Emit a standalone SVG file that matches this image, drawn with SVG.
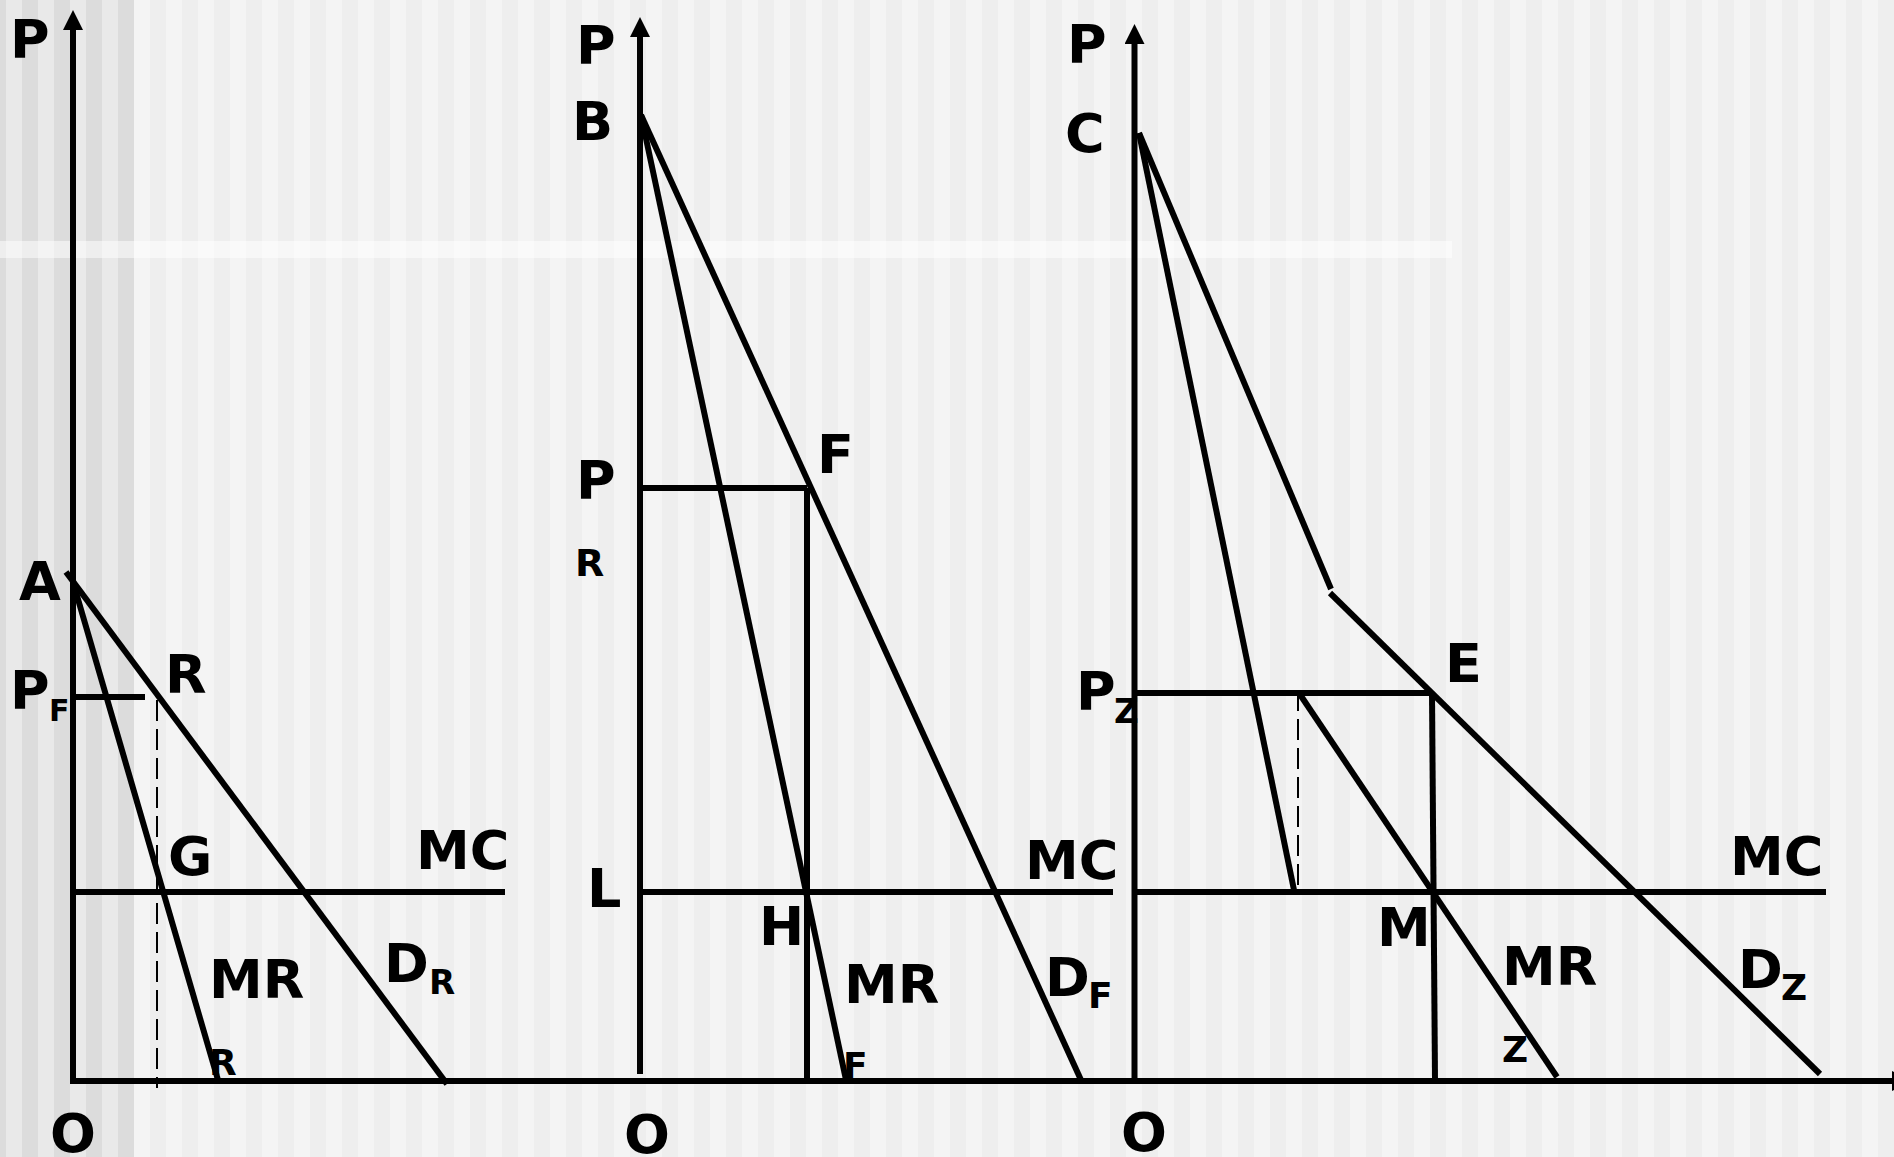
<svg xmlns="http://www.w3.org/2000/svg" width="1894" height="1157" viewBox="0 0 1894 1157">
<defs>
<pattern id="stripesL" x="6" y="0" width="32" height="1157" patternUnits="userSpaceOnUse">
<rect x="0" y="0" width="16" height="1157" fill="#e9e9e9"/>
<rect x="16" y="0" width="16" height="1157" fill="#dcdcdc"/>
</pattern>
<pattern id="stripesR" x="6" y="0" width="32" height="1157" patternUnits="userSpaceOnUse">
<rect x="0" y="0" width="16" height="1157" fill="#f4f4f4"/>
<rect x="16" y="0" width="16" height="1157" fill="#eeeeee"/>
</pattern>
<marker id="arrow" viewBox="0 0 20 20" refX="0" refY="10" markerWidth="20" markerHeight="20" markerUnits="userSpaceOnUse" orient="auto">
<path d="M0,0 L20,10 L0,20 Z" fill="#000"/>
</marker>
</defs>
<style>
.ln{stroke:#000;stroke-width:6;fill:none;stroke-linecap:butt}
.ds{stroke:#000;stroke-width:2;fill:none;stroke-dasharray:21 8}
.t{font-family:"DejaVu Sans","Liberation Sans",sans-serif;font-weight:bold;fill:#000;font-size:54px}
.s{font-family:"DejaVu Sans","Liberation Sans",sans-serif;font-weight:bold;fill:#000;font-size:36px}
</style>
<g id="background">
<rect x="0" y="0" width="1894" height="1157" fill="url(#stripesR)"/>
<rect x="0" y="0" width="134" height="1157" fill="url(#stripesL)"/>
<rect x="0" y="241" width="1452" height="17" fill="#ffffff" fill-opacity="0.5"/>
</g>
<g id="axes">
<line class="ln" x1="73" y1="1083" x2="73" y2="30" marker-end="url(#arrow)"/>
<line class="ln" x1="640" y1="1074" x2="640" y2="37" marker-end="url(#arrow)"/>
<line class="ln" x1="1134.5" y1="1081" x2="1134.5" y2="44" marker-end="url(#arrow)"/>
<line class="ln" x1="70" y1="1081" x2="1892" y2="1081" marker-end="url(#arrow)"/>
</g>
<g id="connectors">
<g id="panel1-lines">
<line class="ln" x1="66" y1="572" x2="447" y2="1084"/>
<line class="ln" x1="73" y1="582" x2="218" y2="1080"/>
<line class="ln" x1="73" y1="697" x2="145" y2="697"/>
<line class="ds" x1="157" y1="700" x2="157" y2="1088"/>
<line class="ln" x1="73" y1="892" x2="505" y2="892"/>
</g>
<g id="panel2-lines">
<line class="ln" x1="641" y1="115" x2="1081" y2="1080"/>
<line class="ln" x1="641" y1="115" x2="846" y2="1080"/>
<line class="ln" x1="640" y1="488" x2="807" y2="488"/>
<line class="ln" x1="807" y1="488" x2="807" y2="1080"/>
<line class="ln" x1="640" y1="892" x2="1113" y2="892"/>
</g>
<g id="panel3-lines">
<line class="ln" x1="1139" y1="133" x2="1331" y2="589"/>
<line class="ln" x1="1330" y1="593" x2="1820" y2="1074"/>
<line class="ln" x1="1139" y1="133" x2="1294" y2="890"/>
<line class="ln" x1="1134" y1="693" x2="1432" y2="693"/>
<line class="ds" x1="1298" y1="690" x2="1298" y2="886"/>
<line class="ln" x1="1299" y1="693" x2="1557" y2="1077"/>
<line class="ln" x1="1432" y1="693" x2="1435" y2="1080"/>
<line class="ln" x1="1134" y1="892" x2="1826" y2="892"/>
</g>
</g>
<g id="panel1-labels">
<text class="t" x="10" y="58">P</text>
<text class="t" x="19" y="600">A</text>
<text class="t" x="10" y="709">P</text>
<text class="s" x="49" y="721" style="font-size:30px">F</text>
<text class="t" x="165" y="693">R</text>
<text class="t" x="168" y="875">G</text>
<text class="t" x="416" y="869">MC</text>
<text class="t" x="209" y="998">MR</text>
<text class="s" x="209" y="1075">R</text>
<text class="t" x="384" y="982">D</text>
<text class="s" x="429" y="994" style="font-size:34px">R</text>
<text class="t" x="50" y="1152">O</text>
</g>
<g id="panel2-labels">
<text class="t" x="576" y="64">P</text>
<text class="t" x="572" y="140">B</text>
<text class="t" x="817" y="473">F</text>
<text class="t" x="576" y="499">P</text>
<text class="s" x="575" y="576" style="font-size:38px">R</text>
<text class="t" x="587" y="907">L</text>
<text class="t" x="759" y="945">H</text>
<text class="t" x="844" y="1003">MR</text>
<text class="s" x="843" y="1078">F</text>
<text class="t" x="1025" y="879">MC</text>
<text class="t" x="1045" y="996">D</text>
<text class="s" x="1088" y="1008">F</text>
<text class="t" x="624" y="1153">O</text>
</g>
<g id="panel3-labels">
<text class="t" x="1067" y="63">P</text>
<text class="t" x="1065" y="152">C</text>
<text class="t" x="1076" y="710">P</text>
<text class="s" x="1114" y="723" style="font-size:34px">Z</text>
<text class="t" x="1445" y="682">E</text>
<text class="t" x="1730" y="875">MC</text>
<text class="t" x="1377" y="946">M</text>
<text class="t" x="1502" y="985">MR</text>
<text class="s" x="1502" y="1062">Z</text>
<text class="t" x="1738" y="988">D</text>
<text class="s" x="1781" y="1000">Z</text>
<text class="t" x="1121" y="1151">O</text>
</g>
</svg>
